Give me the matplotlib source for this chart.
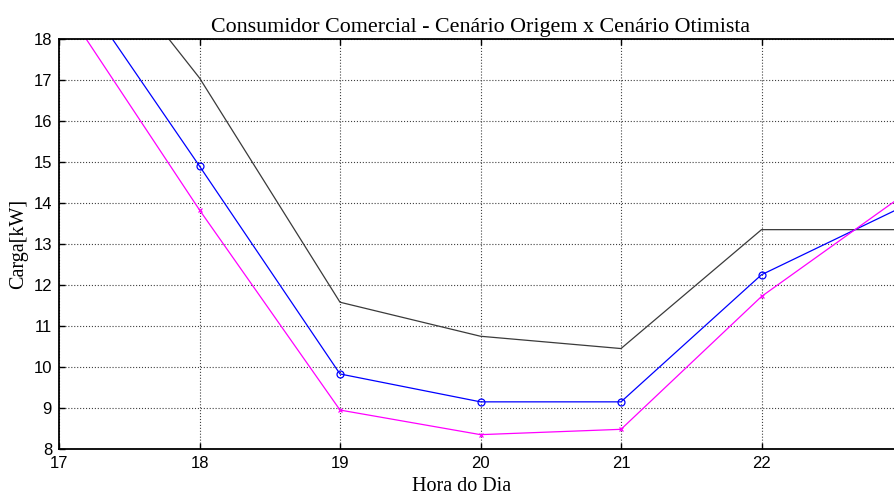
import matplotlib
matplotlib.use("Agg")
import matplotlib.pyplot as plt

hours = [17, 18, 19, 20, 21, 22, 23]
origem = [21.4, 17.05, 11.58, 10.75, 10.45, 13.35, 13.35]
otimista_a = [19.9, 14.9, 9.83, 9.15, 9.15, 12.25, 13.9]
otimista_b = [19.0, 13.83, 8.95, 8.35, 8.48, 11.72, 14.17]
xticks = [17, 18, 19, 20, 21, 22]
yticks = [8, 9, 10, 11, 12, 13, 14, 15, 16, 17, 18]

fig = plt.figure(figsize=(8.94, 4.97), dpi=100)
ax = fig.add_axes([59/894, 1-449/497, (902-59)/894, (449-39)/497])

ax.plot(hours, origem, color='#3a3a3a', lw=0.9)
ax.plot(hours, otimista_a, color='#0000ff', lw=0.9, marker='o', markersize=5,
        markerfacecolor='none', markeredgewidth=0.9)
ax.plot(hours, otimista_b, color='#ff00ff', lw=0.9, marker='x', markersize=3.5,
        markeredgewidth=0.9)

ax.set_xlim(17, 23)
ax.set_ylim(8, 18)
ax.set_xticks(xticks)
ax.set_yticks(yticks)
ax.grid(True, linestyle=':', color='0.25', lw=0.8)
ax.tick_params(direction='in', top=True, right=True, length=4, width=1,
               labelsize=12)
ax.tick_params(axis='x', pad=5)
ax.tick_params(axis='y', pad=5)
for lab in ax.get_xticklabels() + ax.get_yticklabels():
    lab.set_family('Liberation Sans')
for s in ax.spines.values():
    s.set_linewidth(1.3)

ax.set_title('Consumidor Comercial - Cenário Origem x Cenário Otimista',
             family='Liberation Serif', fontsize=15.8, pad=5)
ax.set_xlabel('Hora do Dia', family='Liberation Serif', fontsize=14.5)
ax.xaxis.set_label_coords((462-59)/(902-59), -0.068)
ax.set_ylabel('Carga[kW]', family='Liberation Serif', fontsize=14.5)
ax.yaxis.set_label_coords(-(59-28)/(902-59), 0.5)

fig.savefig('out.png', dpi=100)
